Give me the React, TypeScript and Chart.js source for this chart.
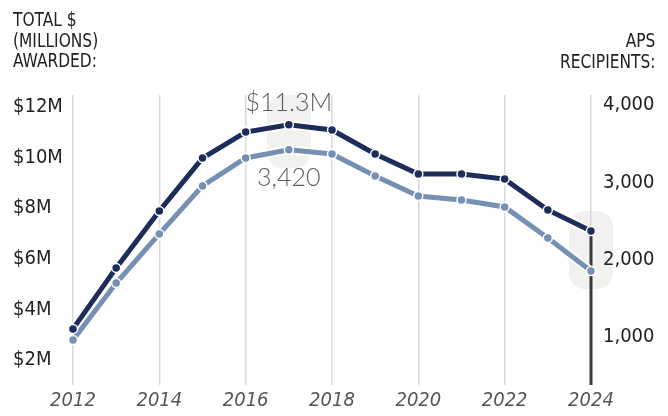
import React, { useEffect, useRef } from "react";
import { Chart, registerables } from "chart.js";

Chart.register(...registerables);

// ---- Data ----
const years = [2012, 2013, 2014, 2015, 2016, 2017, 2018, 2019, 2020, 2021, 2022, 2023, 2024];
const dollarsMillions = [3.23, 5.64, 7.89, 9.98, 11.01, 11.3, 11.09, 10.14, 9.35, 9.35, 9.15, 7.93, 7.1];
const recipients = [961, 1698, 2332, 2953, 3315, 3420, 3366, 3082, 2823, 2771, 2681, 2280, 1853];
const dollarTicks = [2, 4, 6, 8, 10, 12];
const recipientTicks = [1000, 2000, 3000, 4000];
const yearTicks = [2012, 2014, 2016, 2018, 2020, 2022, 2024];
const highlightYears = [2017, 2024];
const annotatedYear = 2017;
const markerYear = 2024;

// ---- Styles ----
const DARK = "#1c2c5b";
const LIGHT = "#7690b3";
const TICK_FONT = "'DejaVu Sans Condensed', 'Liberation Sans Narrow', 'Roboto', sans-serif";
const TITLE_FONT = "'DejaVu Sans Condensed', 'Roboto', sans-serif";
const ANNOT_FONT = "300 25px Lato, 'Open Sans', sans-serif";

const decorPlugin = {
  id: "decor",
  beforeDraw(chart: any) {
    const { ctx, scales } = chart;
    const xs = scales.x, yl = scales.y, yr = scales.y1;
    ctx.save();
    ctx.fillStyle = "#f1f1f0";
    highlightYears.forEach((yr0, k) => {
      const i = years.indexOf(yr0);
      const px = xs.getPixelForValue(yr0);
      const dy = yl.getPixelForValue(dollarsMillions[i]);
      const ly = yr.getPixelForValue(recipients[i]);
      const topPad = k === 0 ? 30 : 20;
      const top = dy - topPad;
      const bottom = ly + 18;
      ctx.beginPath();
      (ctx as any).roundRect(px - 22, top, 44, bottom - top, 16);
      ctx.fill();
    });
    ctx.restore();
  },
  beforeDatasetsDraw(chart: any) {
    const { ctx, scales, chartArea } = chart;
    const i = years.indexOf(markerYear);
    const px = scales.x.getPixelForValue(markerYear);
    const dy = scales.y.getPixelForValue(dollarsMillions[i]);
    ctx.save();
    ctx.strokeStyle = "#3a3a3a";
    ctx.lineWidth = 3;
    ctx.beginPath();
    ctx.moveTo(px, dy);
    ctx.lineTo(px, chartArea.bottom);
    ctx.stroke();
    ctx.restore();
  },
  afterDatasetsDraw(chart: any) {
    const { ctx, scales } = chart;
    const i = years.indexOf(annotatedYear);
    const px = scales.x.getPixelForValue(annotatedYear);
    const dy = scales.y.getPixelForValue(dollarsMillions[i]);
    const ly = scales.y1.getPixelForValue(recipients[i]);
    ctx.save();
    ctx.font = ANNOT_FONT;
    ctx.fillStyle = "#5c5c5c";
    ctx.textAlign = "center";
    ctx.textBaseline = "middle";
    ctx.fillText(`$${dollarsMillions[i].toFixed(1)}M`, px, dy - 22);
    ctx.fillText(recipients[i].toLocaleString("en-US"), px, ly + 28);
    ctx.restore();
  },
};

export default function App() {
  const canvasRef = useRef<HTMLCanvasElement | null>(null);

  useEffect(() => {
    if (!canvasRef.current) return;
    const dollarPts = years.map((x, i) => ({ x, y: dollarsMillions[i] }));
    const recipPts = years.map((x, i) => ({ x, y: recipients[i] }));
    const chart = new Chart(canvasRef.current, {
      type: "line",
      data: {
        datasets: [
          {
            data: dollarPts,
            yAxisID: "y",
            borderColor: DARK,
            borderWidth: 5,
            pointRadius: 4.5,
            pointBorderWidth: 1.5,
            pointBackgroundColor: DARK,
            pointBorderColor: "#ffffff",
            tension: 0,
            clip: false,
          },
          {
            data: recipPts,
            yAxisID: "y1",
            borderColor: LIGHT,
            borderWidth: 5,
            pointRadius: 4.5,
            pointBorderWidth: 1.5,
            pointBackgroundColor: LIGHT,
            pointBorderColor: "#ffffff",
            tension: 0,
            clip: false,
          },
          {
            data: dollarPts,
            yAxisID: "y",
            borderColor: "#ffffff",
            borderWidth: 9,
            pointRadius: 0,
            tension: 0,
            clip: false,
          },
          {
            data: recipPts,
            yAxisID: "y1",
            borderColor: "#ffffff",
            borderWidth: 9,
            pointRadius: 0,
            tension: 0,
            clip: false,
          },
        ] as any,
      },
      options: {
        responsive: false,
        animation: false,
        devicePixelRatio: 1,
        layout: { padding: { left: 13, top: 95, right: 0, bottom: 0 } },
        plugins: { legend: { display: false }, tooltip: { enabled: false } },
        scales: {
          x: {
            type: "linear",
            min: 2012,
            max: 2024,
            offset: false,
            afterBuildTicks: (s: any) => {
              s.ticks = yearTicks.map((v) => ({ value: v }));
            },
            afterFit: (s: any) => {
              s.height = 31;
            },
            grid: { color: "#d9d9d9", lineWidth: 1.5, drawTicks: false },
            border: { display: false },
            ticks: {
              padding: 4,
              color: "#555555",
              autoSkip: false,
              maxRotation: 0,
              font: { family: TICK_FONT, size: 20, style: "italic" },
              callback: (v: any) => String(v),
            },
          },
          y: {
            position: "left",
            min: 1.012,
            max: 12.474,
            afterBuildTicks: (s: any) => {
              s.ticks = dollarTicks.map((v) => ({ value: v }));
            },
            afterFit: (s: any) => {
              s.width = 60;
            },
            grid: { display: false, drawTicks: false },
            border: { display: false },
            ticks: {
              crossAlign: "far",
              padding: 0,
              color: "#222222",
              font: { family: TICK_FONT, size: 20 },
              callback: (v: any) => `$${v}M`,
            },
          },
          y1: {
            position: "right",
            min: 379,
            max: 4129,
            afterBuildTicks: (s: any) => {
              s.ticks = recipientTicks.map((v) => ({ value: v }));
            },
            afterFit: (s: any) => {
              s.width = 77;
            },
            grid: { display: false, drawTicks: false },
            border: { display: false },
            ticks: {
              padding: 12,
              color: "#222222",
              font: { family: TICK_FONT, size: 20 },
              callback: (v: any) => Number(v).toLocaleString("en-US"),
            },
          },
        },
      } as any,
      plugins: [decorPlugin],
    });
    return () => chart.destroy();
  }, []);

  const titleStyle: React.CSSProperties = {
    position: "absolute",
    fontFamily: TITLE_FONT,
    fontSize: 19.5,
    lineHeight: "20.5px",
    color: "#222222",
    margin: 0,
    whiteSpace: "nowrap",
  };

  return (
    <div
      style={{
        position: "fixed",
        left: 0,
        top: 0,
        width: 668,
        height: 416,
        background: "#ffffff",
        overflow: "hidden",
      }}
    >
      <canvas ref={canvasRef} width={668} height={416} style={{ display: "block" }} />
      <div
        style={{
          ...titleStyle,
          left: 13,
          top: 10,
          transform: "scaleX(0.88)",
          transformOrigin: "left top",
        }}
      >
        TOTAL $<br />
        (MILLIONS)<br />
        AWARDED:
      </div>
      <div
        style={{
          ...titleStyle,
          right: 13,
          top: 31,
          textAlign: "right",
          transform: "scaleX(0.88)",
          transformOrigin: "right top",
        }}
      >
        APS<br />
        RECIPIENTS:
      </div>
    </div>
  );
}
